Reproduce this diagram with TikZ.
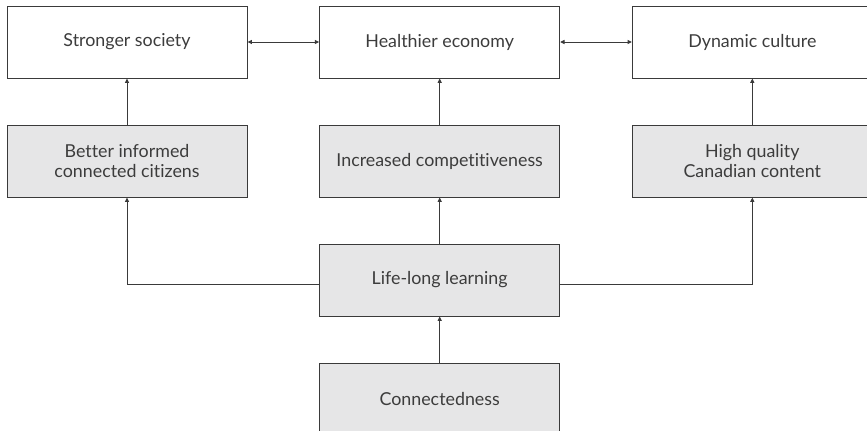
\documentclass[tikz,border=0pt]{standalone}
\usepackage{fontspec}
\setmainfont{Lato}[Ligatures=NoCommon]
\usetikzlibrary{positioning,arrows.meta}

\definecolor{boxgrey}{HTML}{E6E6E7}
\definecolor{linegrey}{HTML}{3A3A3A}
\definecolor{textgrey}{HTML}{3C3C3C}

\tikzset{
  outcome/.style={draw=linegrey, line width=0.6pt, minimum width=144pt,
    minimum height=43.2pt, inner sep=0pt, align=center, text=textgrey,
    font=\fontsize{10.7}{11.8}\selectfont},
  factor/.style={outcome, fill=boxgrey},
  link/.style={draw=linegrey, line width=0.6pt,
    >={Triangle[length=2.6pt,width=2.4pt]}},
}

\begin{document}
\begin{tikzpicture}[x=0.6pt, y=-0.6pt, node distance=27.6pt and 43pt]
  \useasboundingbox (0,0) rectangle (867,430);

  % outcomes
  \node[outcome] (society) at (127,42) {Stronger society};
  \node[outcome, right=of society] (economy) {Healthier economy};
  \node[outcome, right=of economy] (culture) {Dynamic culture};

  % what feeds them
  \node[factor, below=of society] (citizens) {Better informed\\connected citizens};
  \node[factor, below=of economy] (compete) {Increased competitiveness};
  \node[factor, below=of culture] (content) {High quality\\Canadian content};

  \node[factor, below=of compete] (learning) {Life-long learning};
  \node[factor, below=of learning] (connect) {Connectedness};

  \draw[link,<->] (society) -- (economy);
  \draw[link,<->] (economy) -- (culture);
  \draw[link,->] (citizens) -- (society);
  \draw[link,->] (compete) -- (economy);
  \draw[link,->] (content) -- (culture);
  \draw[link,->] (learning) -- (compete);
  \draw[link,->] ([yshift=-2.4pt]learning.west) -| (citizens.south);
  \draw[link,->] ([yshift=-2.4pt]learning.east) -| (content.south);
  \draw[link,->] (connect) -- (learning);
\end{tikzpicture}
\end{document}
